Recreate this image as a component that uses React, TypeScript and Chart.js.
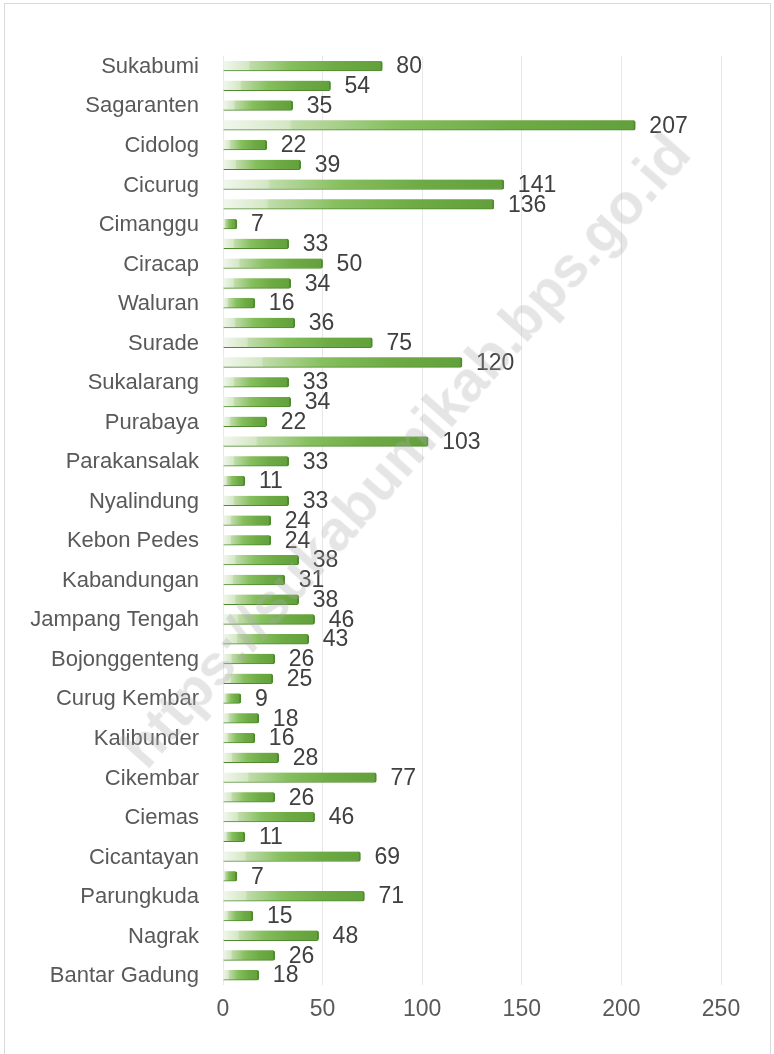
import React, { useEffect, useRef } from "react";
import { Chart, registerables } from "chart.js";

Chart.register(...registerables);

const categories: string[] = [
  "Sukabumi", "Cibitung", "Sagaranten", "Jampang Kulon", "Cidolog", "Tegalbuleud",
  "Cicurug", "Cidadap", "Cimanggu", "Pabuaran", "Ciracap", "Lengkong", "Waluran",
  "Palabuhanratu", "Surade", "Simpenan", "Sukalarang", "Warungkiara", "Purabaya",
  "Gegerbitung", "Parakansalak", "Sukaraja", "Nyalindung", "Cireunghas", "Kebon Pedes",
  "Kadudampit", "Kabandungan", "Cisaat", "Jampang Tengah", "Gunungguruh", "Bojonggenteng",
  "Cibadak", "Curug Kembar", "Caringin", "Kalibunder", "Ciambar", "Cikembar", "Cidahu",
  "Ciemas", "Kalapanunggal", "Cicantayan", "Cikidang", "Parungkuda", "Cisolok", "Nagrak",
  "Cikakak", "Bantar Gadung",
];

const values: number[] = [
  80, 54, 35, 207, 22, 39, 141, 136, 7, 33, 50, 34, 16, 36, 75, 120, 33, 34, 22, 103,
  33, 11, 33, 24, 24, 38, 31, 38, 46, 43, 26, 25, 9, 18, 16, 28, 77, 26, 46, 11, 69, 7,
  71, 15, 48, 26, 18,
];

const xTicks: number[] = [0, 50, 100, 150, 200, 250];

const watermarkText = "https://sukabumikab.bps.go.id";

const FONT = "'Liberation Sans', Arial, sans-serif";

const valueLabels = {
  id: "valueLabels",
  afterDatasetsDraw(chart: any) {
    const ctx = chart.ctx;
    const meta = chart.getDatasetMeta(0);
    ctx.save();
    ctx.font = `23px ${FONT}`;
    ctx.fillStyle = "#404040";
    ctx.textAlign = "left";
    ctx.textBaseline = "middle";
    meta.data.forEach((el: any, i: number) => {
      ctx.fillText(String(values[i]), el.x + 14, el.y + 1);
    });
    ctx.restore();
  },
};

function barGradient(context: any) {
  const chart = context.chart;
  const xs = chart.scales?.x;
  if (!xs || context.dataIndex === undefined) return "#70ad47";
  const v = values[context.dataIndex];
  const x0 = xs.getPixelForValue(0);
  const x1 = xs.getPixelForValue(v);
  if (!isFinite(x0) || !isFinite(x1) || x1 - x0 < 1) return "#70ad47";
  const g = chart.ctx.createLinearGradient(x0, 0, x1, 0);
  g.addColorStop(0, "#f2f7ee");
  g.addColorStop(0.16, "#d3e7c4");
  g.addColorStop(0.17, "#c0dcaa");
  g.addColorStop(0.42, "#86bf5e");
  g.addColorStop(0.7, "#6eab45");
  g.addColorStop(1, "#62a03b");
  return g;
}

export default function App() {
  const canvasRef = useRef<HTMLCanvasElement | null>(null);

  useEffect(() => {
    if (!canvasRef.current) return;
    const chart = new Chart(canvasRef.current, {
      type: "bar",
      data: {
        labels: categories,
        datasets: [
          {
            data: values,
            backgroundColor: barGradient as any,
            borderColor: "#4f8a2f",
            borderWidth: { top: 0, left: 0, right: 2, bottom: 1 } as any,
            borderSkipped: "start",
            borderRadius: { topRight: 2, bottomRight: 2, topLeft: 0, bottomLeft: 0 } as any,
            barThickness: 10,
          },
        ],
      },
      options: {
        indexAxis: "y",
        animation: false,
        responsive: false,
        maintainAspectRatio: false,
        devicePixelRatio: 1,
        layout: { padding: { top: 56, right: 53, bottom: 0, left: 0 } },
        plugins: {
          legend: { display: false },
          tooltip: { enabled: false },
          title: { display: false },
        },
        scales: {
          x: {
            min: 0,
            max: 250,
            afterFit: (scale: any) => {
              scale.height = 69;
            },
            afterBuildTicks: (scale: any) => {
              scale.ticks = xTicks.map((v) => ({ value: v }));
            },
            grid: { color: "#e8e8e8", drawTicks: false, lineWidth: 1 },
            border: { display: false },
            ticks: {
              padding: 11,
              color: "#595959",
              font: { family: FONT, size: 23 },
            },
          },
          y: {
            afterFit: (scale: any) => {
              scale.width = 223;
            },
            grid: { display: false, drawTicks: false },
            border: { display: false },
            ticks: {
              autoSkip: false,
              padding: 24,
              labelOffset: 1,
              color: "#595959",
              font: { family: FONT, size: 22 },
              callback: (_v: any, i: number) => (i % 2 === 0 ? categories[i] : ""),
            },
          },
        },
      },
      plugins: [valueLabels],
    });
    return () => chart.destroy();
  }, []);

  return (
    <div
      style={{
        position: "absolute",
        left: 0,
        top: 0,
        width: 774,
        height: 1054,
        overflow: "hidden",
        background: "#ffffff",
      }}
    >
      <div
        style={{
          position: "absolute",
          left: 4,
          top: 3,
          width: 767,
          height: 1070,
          border: "1px solid #d9d9d9",
          boxSizing: "border-box",
        }}
      />
      <canvas
        ref={canvasRef}
        width={774}
        height={1054}
        style={{ position: "absolute", left: 0, top: 0, width: 774, height: 1054 }}
      />
      <div
        style={{
          position: "absolute",
          left: 405,
          top: 450,
          transform: "translate(-50%, -50%) rotate(-48.4deg)",
          whiteSpace: "nowrap",
          fontFamily: FONT,
          fontWeight: "bold",
          fontSize: 57,
          color: "rgba(170,170,170,0.3)",
          pointerEvents: "none",
        }}
      >
        {watermarkText}
      </div>
    </div>
  );
}
